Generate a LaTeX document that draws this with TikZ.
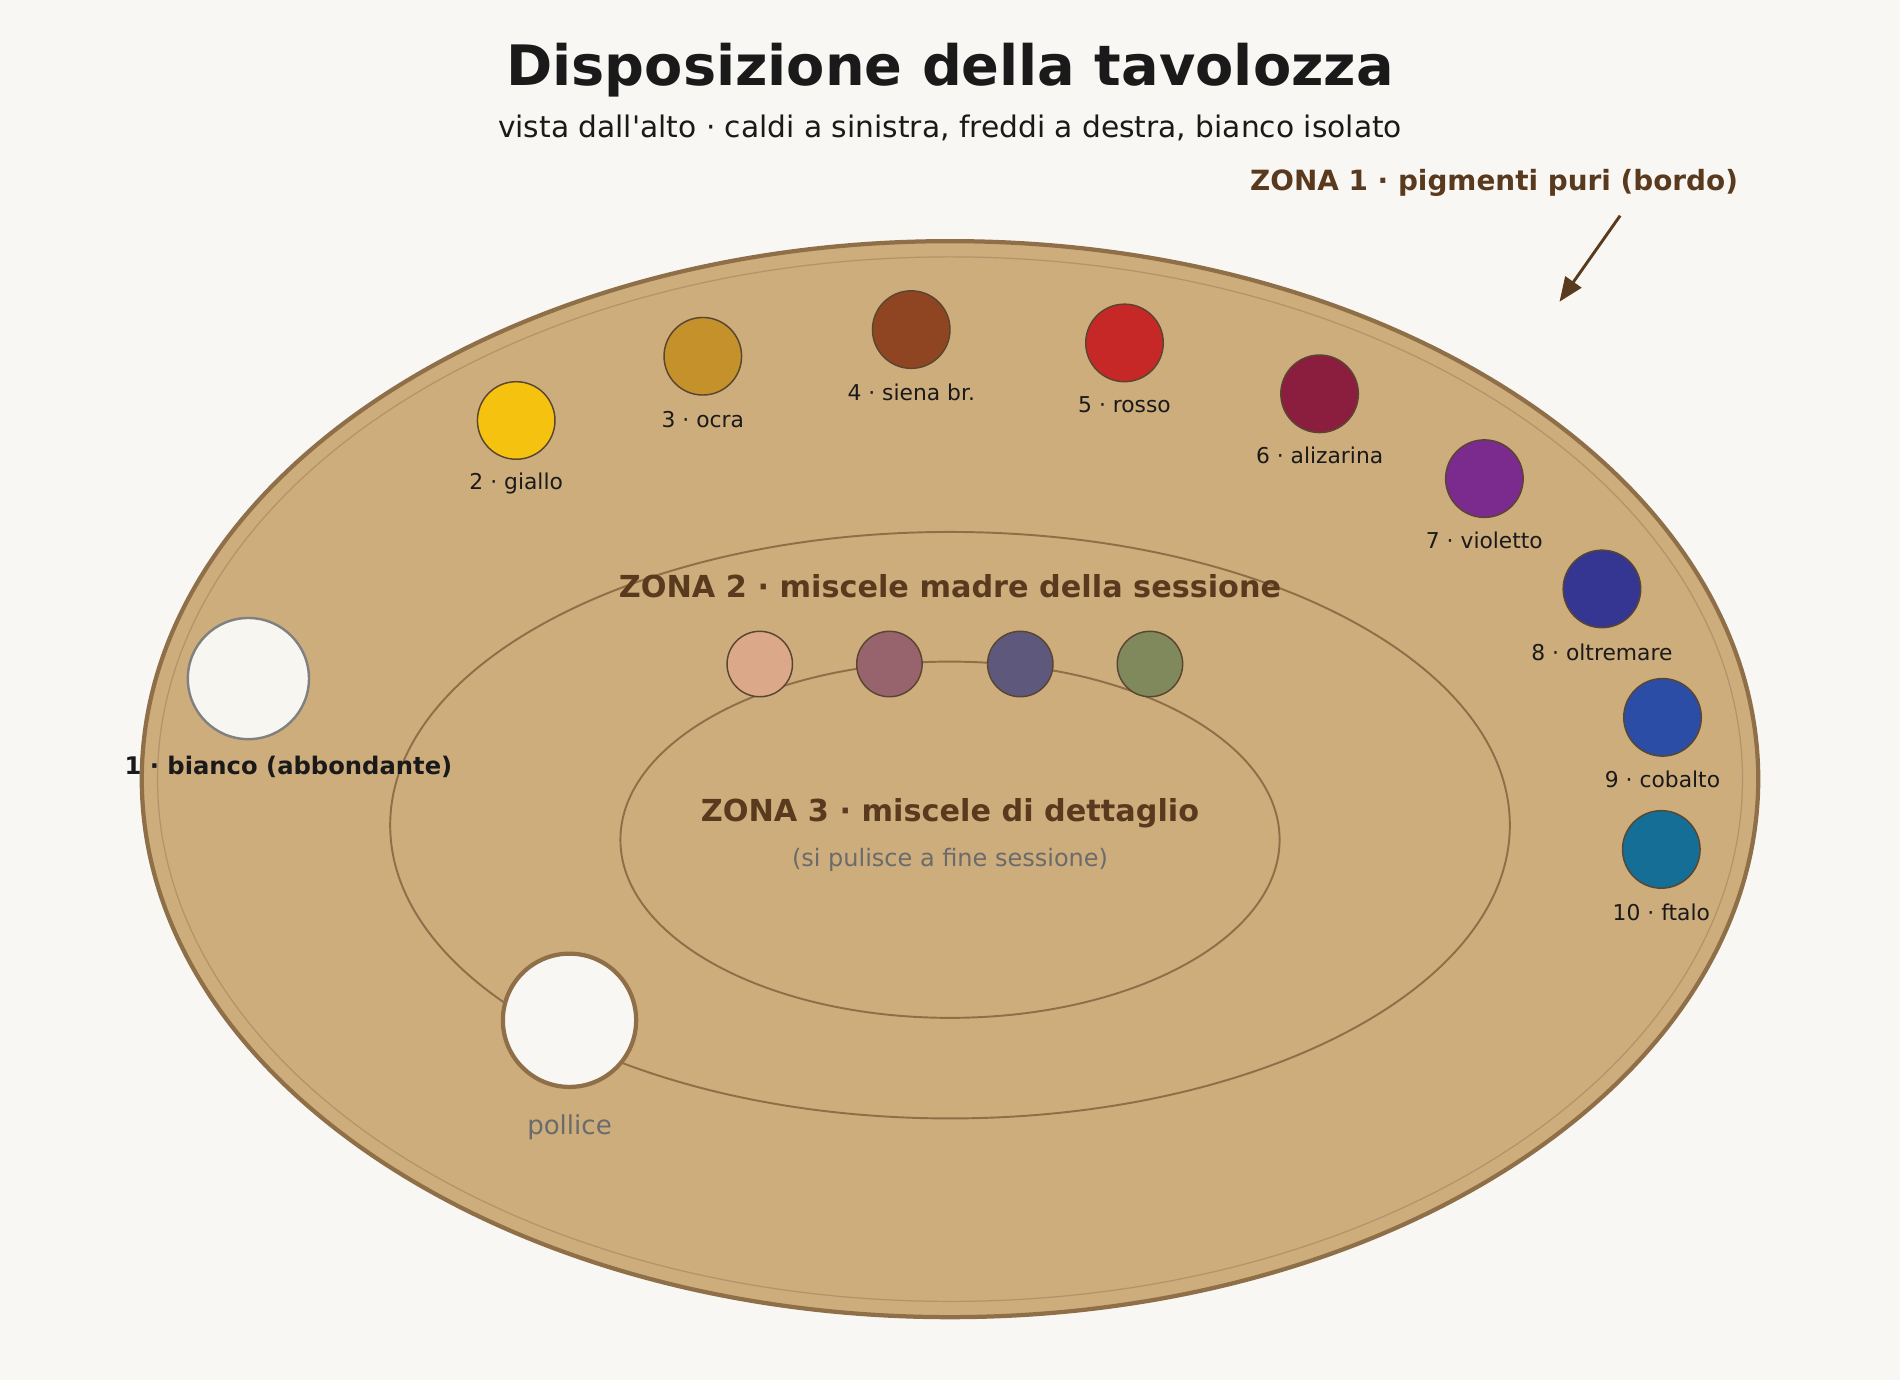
\documentclass[tikz,border=0pt]{standalone}
\usepackage{fontspec}
\setmainfont{DejaVu Sans}
\usetikzlibrary{arrows.meta}

\definecolor{paper}{HTML}{F9F7F3}
\definecolor{wood}{HTML}{CDAD7C}
\definecolor{woodline}{HTML}{8F6F48}
\definecolor{woodring}{HTML}{B39369}
\definecolor{wellline}{HTML}{5A4530}
\definecolor{ink}{HTML}{1A1A1A}
\definecolor{zonetext}{HTML}{5A3A1E}
\definecolor{softgray}{HTML}{6B6B6B}

\definecolor{giallo}{HTML}{F5C20F}
\definecolor{ocra}{HTML}{C4912A}
\definecolor{siena}{HTML}{8F4521}
\definecolor{rosso}{HTML}{C62828}
\definecolor{alizarina}{HTML}{8B1E3F}
\definecolor{violetto}{HTML}{7B2A8E}
\definecolor{oltremare}{HTML}{353592}
\definecolor{cobalto}{HTML}{2B4DA6}
\definecolor{ftalo}{HTML}{146E96}
\definecolor{mixpesca}{HTML}{DCA88A}
\definecolor{mixmalva}{HTML}{97646E}
\definecolor{mixgrigio}{HTML}{5E587D}
\definecolor{mixverde}{HTML}{7F895C}
\definecolor{biancofill}{HTML}{F7F6F1}

\begin{document}
\begin{tikzpicture}[x=1pt,y=-1pt,
    well/.style={circle, draw=wellline, line width=1.2pt, minimum size=64pt, inner sep=0pt},
    mix/.style={circle, draw=wellline, line width=1.2pt, minimum size=54pt, inner sep=0pt},
    lbl/.style={text=ink, font=\fontsize{18}{21}\selectfont},
    zonelbl/.style={text=zonetext, font=\bfseries\fontsize{25}{30}\selectfont},
    zoneline/.style={draw=woodline, line width=1.6pt}]

    \useasboundingbox[fill=paper] (0,0) rectangle (1568,1139);

    % titolo
    \node[text=ink, font=\bfseries\fontsize{46}{54}\selectfont] (title) at (784,58) {Disposizione della tavolozza};
    \node[text=ink, font=\fontsize{24.5}{29}\selectfont] (subtitle) at (784,106) {vista dall\textquotesingle alto · caldi a sinistra, freddi a destra, bianco isolato};

    % tavolozza
    \draw[fill=wood, draw=woodline, line width=3.5pt] (784,643) ellipse [x radius=667, y radius=444];
    \draw[draw=woodring, line width=1pt] (784,643) ellipse [x radius=654, y radius=431];
    \draw[zoneline] (784,681) ellipse [x radius=462, y radius=242];
    \draw[zoneline] (784,693) ellipse [x radius=272, y radius=147];

    % zona 1
    \node[zonelbl, font=\bfseries\fontsize{23}{27}\selectfont] (zona1) at (1233,151) {ZONA 1 · pigmenti puri (bordo)};
    \coordinate (zona1tail) at (1337,178);
    \coordinate (zona1tip) at (1287,249);
    \draw[-{Triangle[length=20pt,width=16pt]}, draw=zonetext, fill=zonetext, line width=2.4pt] (zona1tail) -- (zona1tip);

    \node[circle, draw=gray, fill=biancofill, line width=2pt, minimum size=100pt, inner sep=0pt] (bianco) at (205,560) {};
    \node[text=ink, font=\bfseries\fontsize{20}{24}\selectfont] (lbianco) at (238,633) {1 · bianco (abbondante)};

    \node[well, fill=giallo] (giallo) at (426,347) {};
    \node[well, fill=ocra] (ocra) at (580,294) {};
    \node[well, fill=siena] (siena) at (752,272) {};
    \node[well, fill=rosso] (rosso) at (928,283) {};
    \node[well, fill=alizarina] (alizarina) at (1089,325) {};
    \node[well, fill=violetto] (violetto) at (1225,395) {};
    \node[well, fill=oltremare] (oltremare) at (1322,486) {};
    \node[well, fill=cobalto] (cobalto) at (1372,592) {};
    \node[well, fill=ftalo] (ftalo) at (1371,701) {};

    \node[lbl] (lgiallo) at (426,399) {2 · giallo};
    \node[lbl] (locra) at (580,346) {3 · ocra};
    \node[lbl] (lsiena) at (752,324) {4 · siena br.};
    \node[lbl] (lrosso) at (928,334) {5 · rosso};
    \node[lbl] (lalizarina) at (1089,376) {6 · alizarina};
    \node[lbl] (lvioletto) at (1225,446) {7 · violetto};
    \node[lbl] (loltremare) at (1322,538) {8 · oltremare};
    \node[lbl] (lcobalto) at (1372,643) {9 · cobalto};
    \node[lbl] (lftalo) at (1371,753) {10 · ftalo};

    % zona 2
    \node[zonelbl] (zona2) at (784,484) {ZONA 2 · miscele madre della sessione};
    \node[mix, fill=mixpesca] (mix1) at (627,548) {};
    \node[mix, fill=mixmalva] (mix2) at (734,548) {};
    \node[mix, fill=mixgrigio] (mix3) at (842,548) {};
    \node[mix, fill=mixverde] (mix4) at (949,548) {};

    % zona 3
    \node[zonelbl] (zona3) at (784,671) {ZONA 3 · miscele di dettaglio};
    \node[text=softgray, font=\fontsize{19.8}{23}\selectfont] (pulizia) at (784,710) {(si pulisce a fine sessione)};

    % foro per il pollice
    \node[circle, draw=woodline, fill=paper, line width=3.5pt, minimum size=110pt, inner sep=0pt] (pollice) at (470,842) {};
    \node[text=softgray, font=\fontsize{21.5}{25}\selectfont] (lpollice) at (470,930) {pollice};
\end{tikzpicture}
\end{document}
